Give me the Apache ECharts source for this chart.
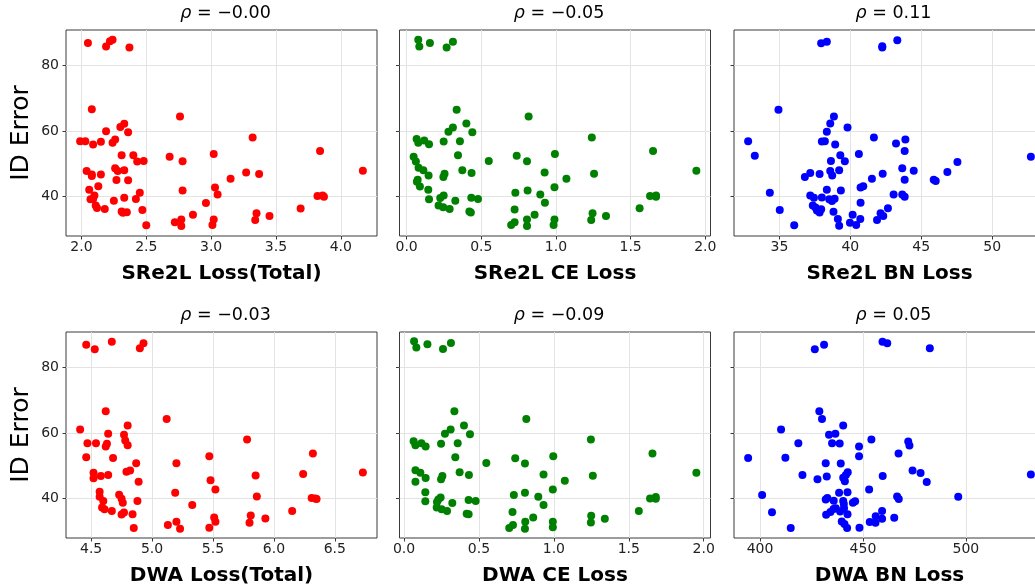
<!DOCTYPE html>
<html><head><meta charset="utf-8">
<script src="https://cdn.jsdelivr.net/npm/echarts@6/dist/echarts.min.js"></script>
<style>html,body{margin:0;padding:0;overflow:hidden;background:#fff}#c{width:1050px;height:586px}</style>
</head><body><div id="c"></div>
<script>
// ---- data: [loss, ID error] ----
const sre2lTotal = [[2.05,86.8],[2.19,85.7],[2.22,87.3],[2.24,87.8],[2.37,85.4],
[2.08,66.6],[2.76,64.4],[2.33,62.2],[2.30,61.2],[2.19,59.9],[2.36,59.6],[3.32,58.0],
[1.99,56.9],[2.03,56.9],[2.09,55.9],[2.15,56.7],[2.24,56.4],[2.26,57.4],[3.84,53.9],
[2.31,52.6],[2.40,52.6],[3.02,53.0],[2.68,52.2],[2.43,50.7],[2.48,50.9],[2.78,50.8],
[2.26,48.7],[2.04,47.8],[2.28,47.8],[2.33,48.1],[2.08,46.3],[2.08,46.8],
[2.15,46.8],[3.27,47.4],[3.37,46.9],[4.17,47.9],[2.27,45.1],[2.36,45.0],[3.15,45.5],
[2.13,43.2],[2.06,42.1],[2.78,41.9],[3.03,42.8],[2.45,41.2],[3.05,40.7],[2.10,40.4],
[2.07,39.2],[2.09,39.3],[2.25,38.8],[2.33,39.7],[2.42,39.3],[3.82,40.2],[3.87,40.0],[3.86,40.4],
[2.96,38.1],[2.11,37.3],[2.12,36.6],[2.18,36.3],[3.69,36.4],[2.31,35.5],[2.32,35.1],[2.35,35.3],
[2.47,36.0],[2.86,34.5],[3.35,35.0],[3.34,32.9],[3.45,34.1],[2.72,32.2],[2.77,33.1],[3.02,33.1],
[2.50,31.3],[2.77,31.1],[3.01,31.4]];
const sre2lCE = [[0.078,87.8],[0.085,85.7],[0.156,86.8],[0.268,85.4],[0.31,87.2],
[0.335,66.5],[0.817,64.4],[0.40,62.3],[0.31,61.1],[0.28,59.8],[0.44,59.6],[1.24,58.0],
[0.067,57.6],[0.078,56.4],[0.118,57.1],[0.15,56.0],[0.248,56.8],[0.357,56.9],[1.65,53.9],
[0.344,52.6],[0.047,52.2],[0.062,50.7],[0.55,50.9],[0.737,52.5],[0.806,50.8],[0.993,53.0],
[0.08,48.8],[0.112,48.1],[0.147,46.5],[0.373,48.1],[0.435,47.2],[0.254,47.0],[0.246,46.0],
[0.924,47.4],[1.255,47.0],[1.07,45.5],[1.94,47.9],
[0.074,45.2],[0.069,44.6],[0.089,43.1],[0.145,42.1],[0.81,41.9],[0.99,42.9],[0.728,41.2],[0.895,40.7],
[0.15,39.2],[0.225,39.6],[0.248,40.4],[0.326,38.8],[0.433,39.7],[0.478,39.3],
[1.63,40.2],[1.67,40.4],[1.67,40.0],[0.926,38.2],
[0.214,37.3],[0.245,36.8],[0.288,36.3],[0.42,35.5],[0.43,35.2],[0.723,36.1],[1.56,36.5],
[0.857,34.5],[1.245,35.0],[1.236,32.9],[1.335,34.1],[0.723,32.2],[0.70,31.4],
[0.806,33.1],[0.806,31.1],[0.99,33.1],[0.984,31.4]];
const sre2lBN = [[37.94,86.7],[38.34,87.2],[42.25,85.4],[42.25,85.8],[43.31,87.6],
[34.93,66.5],[38.84,64.4],[38.58,62.3],[39.80,61.1],[38.34,59.8],[41.66,58.0],
[32.79,56.9],[37.99,56.8],[38.2,56.9],[38.93,55.9],[43.22,56.2],[43.88,57.4],[43.83,53.9],
[33.26,52.5],[39.29,52.6],[40.60,53.0],[38.63,50.9],[39.61,50.8],[47.55,50.6],[43.66,48.7],
[37.17,47.2],[37.83,46.9],[38.58,47.8],[38.72,46.5],[39.21,48.1],[36.79,46.0],[41.52,45.5],
[42.28,47.0],[44.47,47.9],[43.83,45.2],[45.88,45.2],[46.02,44.8],[46.84,47.5],
[38.34,42.1],[39.33,41.9],[40.72,42.8],[40.91,43.2],[34.32,41.2],
[37.17,40.4],[37.43,39.7],[37.99,39.8],[38.51,39.2],[38.7,38.7],[38.89,39.4],
[43.05,40.7],[43.66,40.7],[43.83,40.0],[40.72,38.2],
[37.35,37.3],[37.54,36.7],[37.64,35.8],[37.94,36.2],[37.83,35.2],[35.02,36.0],[38.81,35.4],
[42.65,36.5],[40.16,34.5],[42.13,35.0],[42.32,34.1],[39.12,33.2],[40.70,33.2],[41.88,32.9],
[39.97,32.1],[39.21,31.2],[40.41,31.4],[36.04,31.3],[52.73,52.2]];
const dwaTotal = [[4.46,86.9],[4.53,85.5],[4.67,87.8],[4.90,85.8],[4.93,87.3],
[4.62,66.6],[5.12,64.3],[4.41,61.1],[4.80,62.3],[4.77,59.5],[4.78,57.7],[4.80,56.3],[4.64,59.8],
[4.47,56.9],[4.54,56.9],[4.63,56.7],[4.62,55.9],[5.78,58.0],[6.32,53.8],[5.47,52.9],
[4.46,52.6],[4.68,52.4],[5.20,50.8],[4.87,50.8],
[4.52,47.9],[4.52,46.2],[4.58,46.9],[4.64,47.2],[4.79,48.2],[4.82,48.6],[4.89,45.2],
[5.48,45.6],[5.52,42.8],[5.85,47.1],[6.24,47.5],[6.73,48.0],
[4.57,42.1],[4.57,40.6],[4.60,39.3],[4.59,37.3],[4.61,36.8],[4.73,41.2],[4.75,40.0],[4.76,38.8],
[4.67,36.3],[4.88,39.3],[5.19,41.8],[5.86,40.7],[6.31,40.2],[6.34,40.1],[6.35,39.9],
[4.75,35.2],[4.77,35.8],[4.84,35.3],[5.33,38.1],[6.15,36.3],[5.51,34.3],[5.52,33.0],
[5.81,34.9],[5.80,32.7],[5.93,34.0],[5.20,33.0],[5.23,30.9],[5.13,32.0],[4.85,31.1],[5.47,31.2]];
const dwaCE = [[0.067,87.9],[0.082,86.0],[0.156,87.0],[0.26,85.6],[0.313,87.4],
[0.336,66.6],[0.816,64.3],[0.40,62.3],[0.311,61.1],[0.273,59.8],[0.44,59.6],[1.247,58.0],
[0.064,57.5],[0.076,56.3],[0.116,56.9],[0.144,55.9],[0.247,56.7],[0.358,56.9],[1.658,53.8],
[0.342,52.6],[0.742,52.3],[0.807,50.7],[0.996,52.9],[0.549,50.9],
[0.076,48.7],[0.109,47.9],[0.144,46.3],[0.371,48.1],[0.433,47.2],[0.256,46.9],[0.247,45.9],
[0.931,47.4],[1.26,47.0],[1.073,45.5],[1.951,47.9],[0.076,45.2],
[0.142,42.0],[0.807,41.8],[0.993,42.8],[0.733,41.1],[0.896,40.6],
[0.142,39.2],[0.229,39.8],[0.244,40.4],[0.22,39.0],[0.322,38.7],[0.431,39.6],[0.478,39.3],
[1.642,40.1],[1.68,40.0],[1.68,40.5],[0.931,38.1],
[0.218,37.3],[0.251,36.8],[0.287,36.3],[0.418,35.4],[0.431,35.3],[0.724,36.0],[1.567,36.3],
[0.862,34.3],[1.249,34.8],[1.247,32.8],[1.34,33.9],[0.727,32.0],[0.702,31.1],
[0.809,33.0],[0.807,30.9],[0.993,33.0],[0.993,31.3]];
const dwaBN = [[426.6,85.5],[431.1,86.9],[459.5,87.8],[461.8,87.3],[482.5,85.8],
[428.8,66.6],[430.1,64.3],[410.2,61.1],[440.4,62.3],[433.5,59.5],[436.6,59.8],[454.1,58.0],
[418.6,56.9],[435.0,56.9],[438.7,56.8],[472.0,57.4],[472.6,56.2],[448.1,55.9],
[394.2,52.4],[412.3,52.5],[448.1,52.9],[467.3,53.8],[431.9,50.8],[439.2,50.7],
[420.6,47.2],[427.9,45.9],[432.4,46.8],[440.4,46.4],[441.2,45.3],[441.7,47.2],[442.6,48.1],
[459.6,46.9],[474.1,48.6],[478.0,47.8],[481.0,45.1],[531.6,47.4],
[401.0,41.1],[438.4,41.8],[442.5,42.0],[453.0,42.8],[496.3,40.6],[466.6,40.7],[467.4,39.9],
[431.9,39.8],[432.7,40.2],[435.8,39.4],[440.4,39.3],[440.7,38.4],[445.1,38.8],[446.2,39.2],
[405.8,35.9],[414.9,31.1],[432.1,35.1],[434.2,36.0],[435.7,36.9],[436.8,37.1],[438.9,36.1],[440.8,37.1],
[442.5,35.3],[439.7,33.1],[441.0,32.3],[442.3,31.1],[448.3,31.2],[453.3,32.9],
[456.2,34.7],[456.1,32.7],[459.3,33.9],[459.3,36.3],[465.2,34.2]];

const panelData = [sre2lTotal, sre2lCE, sre2lBN, dwaTotal, dwaCE, dwaBN];
const rhoValues = ['\u22120.00', '\u22120.05', '0.11', '\u22120.03', '\u22120.09', '0.05'];
const xNames = ['SRe2L Loss(Total)', 'SRe2L CE Loss', 'SRe2L BN Loss', 'DWA Loss(Total)', 'DWA CE Loss', 'DWA BN Loss'];
const xTickValues = [[2.0,2.5,3.0,3.5,4.0],[0,0.5,1.0,1.5,2.0],[35,40,45,50],[4.5,5.0,5.5,6.0,6.5],[0,0.5,1.0,1.5,2.0],[400,450,500]];
const xTickDecimals = [1,1,0,1,1,0];
const yTickValues = [40, 60, 80];
const yName = 'ID Error';
const colors = ['#ff0000', '#008000', '#0000ff'];

// ---- layout ----
const colLeft = [66, 399.5, 734];
const rowTop = [30, 332];
const W = 311, H = 206;
const FONT = 'DejaVu Sans';

function padRange(vals) {
  const mn = Math.min(...vals), mx = Math.max(...vals), m = (mx - mn) * 0.05;
  return [mn - m, mx + m];
}
const allY = [].concat(...panelData.map(d => d.map(p => p[1])));
const yRange = padRange(allY);

const grid = [], xAxis = [], yAxis = [], series = [], title = [];
panelData.forEach((d, i) => {
  const r = Math.floor(i / 3), c = i % 3;
  grid.push({ left: colLeft[c], top: rowTop[r], width: W, height: H, show: true,
    borderColor: '#3a3a3a', borderWidth: 1, backgroundColor: 'transparent', outerBoundsMode: 'none', containLabel: false });
  const xr = padRange(d.map(p => p[0]));
  const dec = xTickDecimals[i];
  xAxis.push({ gridIndex: i, type: 'value', min: xr[0], max: xr[1],
    axisLine: { show: false, onZero: false },
    axisTick: { show: true, inside: false, length: 3.5, lineStyle: { color: '#3a3a3a', width: 1 }, customValues: xTickValues[i] },
    axisLabel: { show: true, customValues: xTickValues[i], formatter: v => Number(v).toFixed(dec),
      fontSize: 14, color: '#222', margin: 4, fontFamily: FONT },
    splitLine: { show: true, lineStyle: { color: '#e3e3e3', width: 1 } },
    name: xNames[i], nameLocation: 'middle', nameGap: 28,
    nameTextStyle: { fontSize: 20, fontWeight: 'bold', fontFamily: FONT, color: '#000' } });
  yAxis.push({ gridIndex: i, type: 'value', min: yRange[0], max: yRange[1],
    axisLine: { show: false, onZero: false },
    axisTick: { show: true, inside: false, length: 3.5, lineStyle: { color: '#3a3a3a', width: 1 }, customValues: yTickValues },
    axisLabel: { show: c === 0, customValues: yTickValues, fontSize: 14, color: '#222', margin: 7, fontFamily: FONT },
    splitLine: { show: true, lineStyle: { color: '#e3e3e3', width: 1 } },
    name: c === 0 ? yName : '', nameLocation: 'middle', nameGap: 32, nameRotate: 90,
    nameTextStyle: { fontSize: 25, fontFamily: FONT, color: '#000' } });
  series.push({ type: 'scatter', xAxisIndex: i, yAxisIndex: i, data: d, symbolSize: 8,
    itemStyle: { color: colors[c], opacity: 1 }, emphasis: { disabled: true }, z: 3 });
  title.push({ text: '{i|\u03c1} = ' + rhoValues[i], left: colLeft[c] + W / 2 + 4, top: rowTop[r] - 26,
    textAlign: 'center', padding: 0,
    textStyle: { fontSize: 17.5, fontWeight: 'normal', fontFamily: FONT, color: '#000',
      rich: { i: { fontSize: 17.5, fontStyle: 'italic', fontFamily: FONT, color: '#000' } } } });
});

const chart = echarts.init(document.getElementById('c'), null, { renderer: 'canvas' });
chart.setOption({ animation: false, backgroundColor: '#fff', title, grid, xAxis, yAxis, series, tooltip: { show: false } });
</script></body></html>
